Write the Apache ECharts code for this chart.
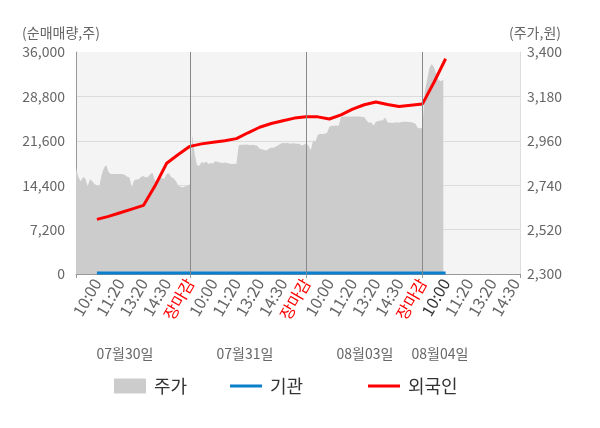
<!DOCTYPE html>
<html>
<head>
<meta charset="utf-8">
<script src="https://cdn.jsdelivr.net/npm/echarts@6/dist/echarts.min.js"></script>
<style>
  html, body { margin: 0; padding: 0; background: #fff; }
  #chart { width: 600px; height: 428px; }
</style>
</head>
<body>
<div id="chart"></div>
<script>
// 시간 라벨 (하루 5칸)
var timeLabels = ['10:00', '11:20', '13:20', '14:30', '장마감'];
var dayLabels = ['07월30일', '07월31일', '08월03일', '08월04일'];

// 주가(원) - 0.1칸 간격
var priceDay1 = [2827, 2782, 2760, 2780, 2775, 2733, 2770, 2760, 2745, 2740,
                 2735, 2790, 2825, 2840, 2805, 2795, 2795, 2795, 2795, 2795,
                 2795, 2790, 2782, 2778, 2728, 2765, 2768, 2770, 2782, 2785,
                 2778, 2782, 2795, 2800, 2760, 2770, 2780, 2775, 2772, 2795,
                 2798, 2780, 2775, 2760, 2738, 2732, 2730, 2735, 2738, 2745];
var priceDay2 = [2989, 2900, 2840, 2835, 2855, 2850, 2858, 2845, 2850, 2848,
                 2860, 2855, 2852, 2850, 2852, 2850, 2848, 2845, 2846, 2845,
                 2938, 2940, 2940, 2942, 2940, 2938, 2940, 2938, 2935, 2920,
                 2918, 2915, 2912, 2922, 2925, 2925, 2932, 2938, 2945, 2950,
                 2948, 2950, 2946, 2948, 2947, 2946, 2945, 2937, 2940, 2948];
var priceDay3 = [2935, 2914, 2962, 2955, 2990, 2994, 2994, 2995, 3000, 3030,
                 3035, 3035, 3036, 3035, 3078, 3080, 3080, 3080, 3080, 3080,
                 3080, 3080, 3080, 3078, 3078, 3060, 3050, 3052, 3036, 3055,
                 3058, 3060, 3062, 3075, 3052, 3050, 3050, 3050, 3052, 3050,
                 3053, 3054, 3054, 3053, 3053, 3050, 3045, 3025, 3022, 3022];
var priceDay4 = [3200, 3260, 3320, 3340, 3325, 3290, 3260, 3255, 3262];

// 순매매량(주) - 10:00부터 0.5칸 간격
var foreignNet = [8850, 9350, 9940, 10530, 11120, 14300, 17950, 19370, 20700,
                  21100, 21350, 21600, 21950, 22900, 23800, 24400, 24850, 25280, 25500,
                  25480, 25130, 25800, 26750, 27450, 27900, 27500, 27150, 27380, 27550,
                  31100, 34900];
var instNet = [150, 150, 150, 150, 150, 150, 150, 150, 150,
               150, 150, 150, 150, 150, 150, 150, 150, 150, 150,
               150, 150, 150, 150, 150, 150, 150, 150, 150, 150,
               150, 150];

var FONT = 'Noto Sans CJK KR';
var LINE_ICON = 'path://M0 0H32V3H0Z';

// 범례 한 칸
function legendItem(left, name, icon) {
    return {
        top: 377, left: left, padding: 0,
        itemWidth: 32, itemHeight: 15,
        textStyle: { fontSize: 18, color: '#333', fontFamily: FONT, padding: [0, 0, 0, 3] },
        data: [{ name: name, icon: icon }]
    };
}

function loadChart() {
    var myChart = echarts.init(document.getElementById('chart'));

    // 가격 데이터: 하루 = 5칸
    var priceData = [];
    [priceDay1, priceDay2, priceDay3, priceDay4].forEach(function (day, d) {
        day.forEach(function (v, i) {
            priceData.push([+(d * 5 + (i + 1) * 0.1).toFixed(2), v]);
        });
    });
    var foreignData = foreignNet.map(function (v, i) { return [1 + i * 0.5, v]; });
    var instData = instNet.map(function (v, i) { return [1 + i * 0.5, v]; });

    var labelVals = [];
    for (var k = 1; k <= 19; k++) labelVals.push(k);

    var option = {
        animation: false,
        textStyle: { fontFamily: FONT },
        grid: {
            left: 76, right: 80, top: 52, bottom: 154,
            show: true, backgroundColor: '#f4f4f4', borderWidth: 0
        },
        legend: [
            legendItem(114, '주가', 'rect'),
            legendItem(230, '기관', LINE_ICON),
            legendItem(368, '외국인', LINE_ICON)
        ],
        xAxis: {
            type: 'value', min: 0.1, max: 19.2,
            axisLine: { lineStyle: { color: '#999' } },
            axisTick: { show: true, length: 4, lineStyle: { color: '#999' }, customValues: [0.1, 5, 10, 15, 19.2] },
            splitLine: { show: false },
            axisLabel: {
                customValues: labelVals,
                rotate: 60, margin: 6, fontSize: 16, color: '#666', fontFamily: FONT,
                formatter: function (v) {
                    var n = Math.round(v);
                    var t = timeLabels[(n - 1) % 5];
                    if (n % 5 === 0) return '{r|' + t + '}';
                    if (n === 16) return '{d|' + t + '}';
                    return t;
                },
                rich: {
                    r: { color: '#ff0000', fontSize: 16, fontFamily: FONT },
                    d: { color: '#333', fontSize: 16, fontFamily: FONT }
                }
            }
        },
        yAxis: [{
            type: 'value', min: 0, max: 36000, interval: 7200, position: 'left',
            name: '(순매매량,주)', nameGap: 12,
            nameTextStyle: { color: '#666', fontSize: 14, align: 'center', padding: [0, 30, 0, 0], fontFamily: FONT },
            axisLine: { show: true, lineStyle: { color: '#999' } },
            axisTick: { show: false },
            axisLabel: {
                color: '#666', fontSize: 14, margin: 11, fontFamily: FONT,
                formatter: function (v) { return v.toLocaleString('en-US'); }
            },
            splitLine: { show: true, showMaxLine: false, lineStyle: { color: '#dcdcdc' } }
        }, {
            type: 'value', min: 2300, max: 3400, interval: 220, position: 'right',
            name: '(주가,원)', nameGap: 12,
            nameTextStyle: { color: '#666', fontSize: 14, align: 'center', padding: [0, 0, 0, 30], fontFamily: FONT },
            axisLine: { show: true, lineStyle: { color: '#ddd' } },
            axisTick: { show: false },
            axisLabel: {
                color: '#666', fontSize: 14, margin: 7, fontFamily: FONT,
                formatter: function (v) { return v.toLocaleString('en-US'); }
            },
            splitLine: { show: false }
        }],
        series: [{
            name: '주가', type: 'line', yAxisIndex: 1,
            data: priceData, symbol: 'none',
            color: '#cccccc',
            lineStyle: { width: 0 },
            areaStyle: { color: '#cccccc', opacity: 1 },
            markLine: {
                silent: true, symbol: ['none', 'none'],
                label: { show: false },
                lineStyle: { color: '#888', width: 1, type: 'solid' },
                data: [{ xAxis: 5 }, { xAxis: 10 }, { xAxis: 15 }]
            }
        }, {
            name: '기관', type: 'line', yAxisIndex: 0,
            data: instData, symbol: 'none',
            color: '#0a7fcc',
            lineStyle: { width: 3, color: '#0a7fcc' }
        }, {
            name: '외국인', type: 'line', yAxisIndex: 0,
            data: foreignData, symbol: 'none',
            color: '#ff0000',
            lineStyle: { width: 3, color: '#ff0000' }
        }],
        graphic: [
            { type: 'text', x: 125, y: 354, style: { text: dayLabels[0], fill: '#666', fontSize: 14, fontFamily: FONT, align: 'center', verticalAlign: 'middle' } },
            { type: 'text', x: 245, y: 354, style: { text: dayLabels[1], fill: '#666', fontSize: 14, fontFamily: FONT, align: 'center', verticalAlign: 'middle' } },
            { type: 'text', x: 365, y: 354, style: { text: dayLabels[2], fill: '#666', fontSize: 14, fontFamily: FONT, align: 'center', verticalAlign: 'middle' } },
            { type: 'text', x: 440, y: 354, style: { text: dayLabels[3], fill: '#666', fontSize: 14, fontFamily: FONT, align: 'center', verticalAlign: 'middle' } }
        ]
    };

    myChart.setOption(option);
}

loadChart();
</script>
</body>
</html>
